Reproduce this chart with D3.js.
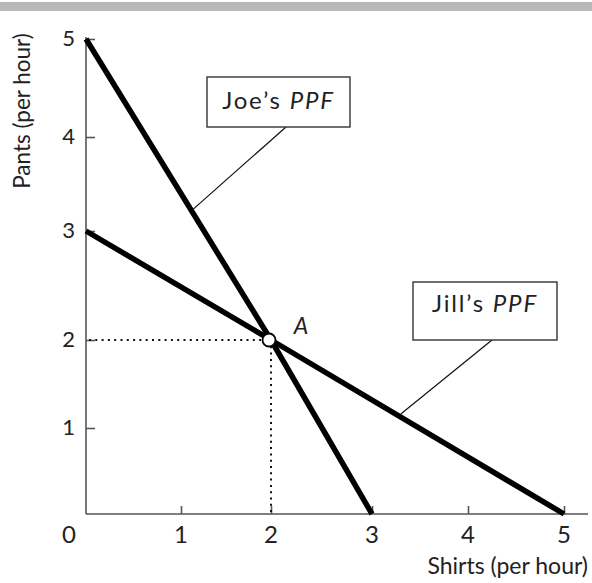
<!DOCTYPE html>
<html>
<head>
<meta charset="utf-8">
<script src="https://cdn.jsdelivr.net/npm/d3@7"></script>
<style>
  html, body { margin: 0; padding: 0; background: #fff; }
  svg { display: block; }
  text { font-family: Lato, "Open Sans", sans-serif; fill: #222; }
</style>
</head>
<body>
<svg id="chart" width="592" height="583"></svg>
<script>
// ---- data ----
const shirtTicks = [1, 2, 3, 4, 5];
const pantsTicks = [1, 2, 3, 4, 5];
const joePPF = [ {shirts: 0, pants: 5}, {shirts: 2, pants: 2}, {shirts: 3, pants: 0} ];
const jillPPF = [ {shirts: 0, pants: 3}, {shirts: 2, pants: 2}, {shirts: 5, pants: 0} ];
const pointA = {shirts: 2, pants: 2, label: "A"};
const xTitle = "Shirts (per hour)";
const yTitle = "Pants (per hour)";
const joeLabel = ["Joe\u2019s ", "PPF"];
const jillLabel = ["Jill\u2019s ", "PPF"];
const joeLeaderAt = 1.13;   // shirts value where Joe's leader meets his PPF
const jillLeaderAt = 3.3;   // shirts value where Jill's leader meets her PPF

// ---- layout ----
const svg = d3.select("#chart");
// the printed grid is slightly uneven; reproduce it with piecewise scales
const x = d3.scaleLinear().domain([0, 1, 2, 3, 4, 5]).range([86, 181, 271, 372, 468, 564]);
const y = d3.scaleLinear().domain([0, 1, 2, 3, 4, 5]).range([514, 428, 340, 231, 137, 39]);

// top grey band
svg.append("rect").attr("x", 0).attr("y", 2).attr("width", 592).attr("height", 9).attr("fill", "#b8b8b8");

const axisColor = "#555";
// axis lines
svg.append("line").attr("x1", x(0)).attr("y1", y(0)).attr("x2", x(0)).attr("y2", y(5) - 2)
  .attr("stroke", axisColor).attr("stroke-width", 1.6);
svg.append("line").attr("x1", x(0)).attr("y1", y(0)).attr("x2", 588).attr("y2", y(0))
  .attr("stroke", axisColor).attr("stroke-width", 1.6);

// y axis ticks (inward) via d3 axis
const yAxis = d3.axisRight(y).tickValues(pantsTicks).tickSize(9).tickFormat("");
const yg = svg.append("g").attr("transform", `translate(${x(0)},0)`).call(yAxis);
yg.select(".domain").remove();
yg.selectAll(".tick line").attr("stroke", axisColor).attr("stroke-width", 1.6);
svg.append("g").selectAll("text").data(pantsTicks).join("text")
  .attr("x", 75).attr("y", d => y(d) - 2).attr("text-anchor", "end").attr("dominant-baseline", "central")
  .attr("font-size", 22).text(d => d);

// x axis ticks (inward) via d3 axis
const xAxis = d3.axisTop(x).tickValues(shirtTicks).tickSize(8).tickFormat("");
const xg = svg.append("g").attr("transform", `translate(0,${y(0)})`).call(xAxis);
xg.select(".domain").remove();
xg.selectAll(".tick line").attr("stroke", axisColor).attr("stroke-width", 1.6);
svg.append("g").selectAll("text").data(shirtTicks).join("text")
  .attr("x", d => x(d)).attr("y", 533).attr("text-anchor", "middle").attr("dominant-baseline", "central")
  .attr("font-size", 24).text(d => d);
// origin label
svg.append("text").attr("x", 69).attr("y", 533).attr("text-anchor", "middle").attr("dominant-baseline", "central")
  .attr("font-size", 24).text(0);

// axis titles
svg.append("text").attr("x", 588).attr("y", 574).attr("text-anchor", "end")
  .attr("font-size", 23).text(xTitle);
svg.append("text").attr("transform", "translate(30,111) rotate(-90)").attr("text-anchor", "middle")
  .attr("font-size", 22.5).text(yTitle);

// dotted guides to A
const dot = {stroke: "#111", "stroke-width": 2, "stroke-dasharray": "2,4.3"};
const hl = svg.append("line").attr("x1", x(0) + 3).attr("y1", y(pointA.pants)).attr("x2", x(pointA.shirts)).attr("y2", y(pointA.pants));
const vl = svg.append("line").attr("x1", x(pointA.shirts)).attr("y1", y(pointA.pants)).attr("x2", x(pointA.shirts)).attr("y2", y(0) - 2);
[hl, vl].forEach(l => Object.entries(dot).forEach(([k, v]) => l.attr(k, v)));

// PPF lines
const line = d3.line().x(d => x(d.shirts)).y(d => y(d.pants));
[joePPF, jillPPF].forEach(data => {
  svg.append("path").datum(data).attr("d", line).attr("fill", "none")
    .attr("stroke", "#000").attr("stroke-width", 5.5).attr("stroke-linejoin", "round");
});

// point on a polyline (pixel space) at a given shirts value
function pointOn(data, s) {
  for (let i = 0; i < data.length - 1; i++) {
    const a = data[i], b = data[i + 1];
    if (s >= a.shirts && s <= b.shirts) {
      const px = x(s);
      const t = (px - x(a.shirts)) / (x(b.shirts) - x(a.shirts));
      return [px, y(a.pants) + t * (y(b.pants) - y(a.pants))];
    }
  }
}

// point A
svg.append("circle").attr("cx", x(pointA.shirts) - 2).attr("cy", y(pointA.pants)).attr("r", 6.5)
  .attr("fill", "#fff").attr("stroke", "#000").attr("stroke-width", 1.8);
svg.append("text").attr("x", x(pointA.shirts) + 30).attr("y", y(pointA.pants) - 6)
  .attr("text-anchor", "middle").attr("font-size", 23).attr("font-style", "italic").text(pointA.label);

// label boxes with leaders
function labelBox(box, parts, leaderFrom, data, s) {
  const p = pointOn(data, s);
  svg.append("line").attr("x1", leaderFrom[0]).attr("y1", leaderFrom[1]).attr("x2", p[0]).attr("y2", p[1] - 3)
    .attr("stroke", "#111").attr("stroke-width", 1.2);
  svg.append("rect").attr("x", box.x).attr("y", box.y).attr("width", box.w).attr("height", box.h)
    .attr("fill", "#fff").attr("stroke", "#333").attr("stroke-width", 1.4);
  const t = svg.append("text").attr("x", box.x + box.w / 2).attr("y", box.baseline)
    .attr("text-anchor", "middle").attr("font-size", 24).attr("letter-spacing", 1.8);
  t.append("tspan").text(parts[0]);
  t.append("tspan").attr("font-style", "italic").text(parts[1]);
}
labelBox({x: 207, y: 77, w: 143, h: 50, baseline: 109}, joeLabel, [286, 127], joePPF, joeLeaderAt);
labelBox({x: 413, y: 282, w: 144, h: 58, baseline: 312}, jillLabel, [492, 340], jillPPF, jillLeaderAt);
</script>
</body>
</html>
